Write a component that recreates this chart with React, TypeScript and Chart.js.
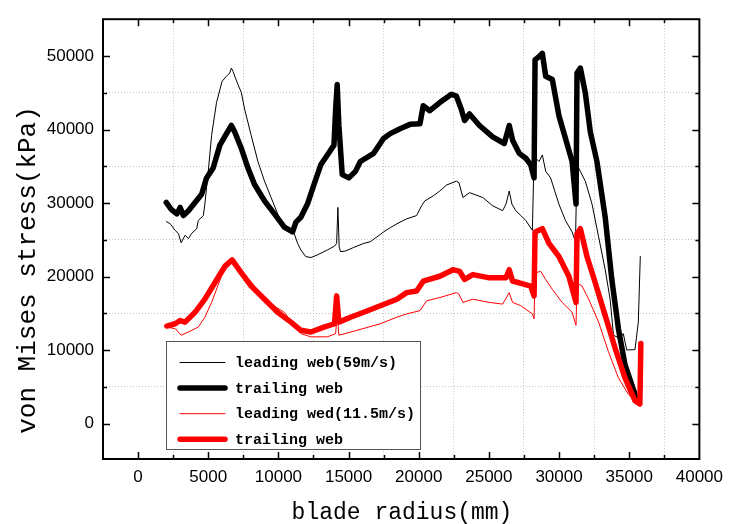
import React, { useEffect, useRef } from 'react';
import { Chart, registerables } from 'chart.js';

Chart.register(...registerables);

// ---------- data ----------
const lead59X = [2006, 2290, 2640, 2880, 3070, 3350, 3590, 3820, 4180, 4290, 4650, 4760, 5000, 5240, 5590, 5990, 6300, 6530, 6650, 6770, 6890, 7120, 7360, 7590, 8060, 8540, 9010, 9480, 9950, 10420, 11130, 11370, 11600, 11950, 12310, 12780, 13490, 14000, 14150, 14240, 14330, 14430, 14780, 15370, 16080, 16550, 17020, 17490, 17970, 18440, 19140, 19850, 20200, 20440, 21030, 21500, 21970, 22680, 22870, 23150, 23620, 24570, 25270, 25980, 26220, 26450, 26640, 26920, 27280, 27630, 28100, 28220, 28570, 28810, 29050, 29400, 29990, 30460, 30930, 31170, 31280, 31870, 32350, 32820, 33290, 33640, 33880, 34350, 34580, 34820, 35410, 35650, 35790];
const lead59Y = [27490, 27180, 26290, 25840, 24600, 25620, 25180, 25880, 26510, 27630, 28300, 29860, 34300, 39210, 43670, 46570, 47240, 47680, 48350, 47900, 47240, 46120, 45010, 42780, 39210, 35650, 32980, 30750, 28520, 26740, 25840, 24510, 23620, 22730, 22590, 22950, 23620, 24150, 24510, 29410, 24060, 23390, 23480, 23970, 24510, 24740, 25400, 26070, 26650, 27180, 27850, 28300, 29630, 30300, 30970, 31640, 32440, 32980, 32760, 30750, 31420, 30750, 29630, 28960, 29860, 31640, 29860, 28960, 28300, 27630, 26290, 36320, 35650, 36540, 34310, 33420, 29860, 27630, 26070, 24740, 35200, 32980, 29860, 25400, 20940, 16930, 12030, 11580, 12250, 10020, 10070, 13810, 22730];

const trail59X = [2006, 2340, 2760, 3000, 3230, 3590, 4060, 4530, 4880, 5350, 5830, 6300, 6650, 6890, 7360, 7830, 8300, 9010, 9720, 10420, 11010, 11250, 11600, 12070, 12540, 13020, 13490, 13960, 14080, 14190, 14310, 14550, 15020, 15490, 15840, 16790, 17490, 17970, 18670, 19380, 20090, 20320, 20790, 21500, 22330, 22680, 23030, 23270, 23620, 24330, 25270, 26100, 26450, 26690, 27160, 27630, 27980, 28220, 28290, 28570, 28810, 29050, 29520, 29990, 30460, 30930, 31210, 31280, 31520, 31870, 32230, 32700, 33290, 33760, 34230, 34700, 35410, 35650];
const trail59Y = [30080, 29190, 28520, 29410, 28300, 28960, 30080, 31190, 33420, 34760, 37880, 39440, 40550, 39660, 37430, 34760, 32530, 30300, 28520, 26740, 26070, 27410, 28070, 29860, 32530, 35200, 36540, 37880, 42780, 46120, 40550, 33870, 33420, 34310, 35650, 36760, 38770, 39440, 40110, 40700, 40770, 43230, 42560, 43670, 44790, 44560, 42780, 41220, 42110, 40550, 38990, 38100, 40550, 38550, 36760, 36100, 35200, 33420, 49470, 49910, 50360, 47240, 46790, 41890, 38770, 35650, 29860, 47680, 48350, 45010, 39660, 35650, 28070, 19610, 12920, 8020, 4010, 3120];

const lead115X = [2050, 2640, 3070, 3590, 4290, 4760, 5240, 5940, 6530, 6770, 7360, 8300, 9480, 10420, 11130, 11600, 12310, 13490, 14080, 14190, 14310, 15610, 17260, 18440, 19140, 20090, 20560, 21500, 22680, 22870, 23150, 23860, 25040, 25980, 26450, 26690, 27280, 28100, 28220, 28290, 28690, 29050, 29520, 30220, 30930, 31210, 31280, 31640, 32110, 32820, 33520, 34230, 34940, 35650];
const lead115Y = [13140, 12920, 12030, 12470, 13140, 14480, 16490, 20050, 21830, 22060, 20940, 18710, 16260, 15150, 13370, 12250, 11810, 11810, 12250, 15150, 12030, 12700, 13590, 14480, 14930, 15370, 16710, 17150, 17820, 17600, 16490, 16930, 16490, 16260, 17820, 16490, 16040, 14930, 14260, 20500, 20720, 19610, 18270, 16490, 15150, 13370, 19160, 18710, 16930, 13810, 9800, 6240, 4010, 2670];

const trail115X = [2050, 2640, 3000, 3350, 4060, 4760, 5470, 6180, 6700, 7360, 8060, 9010, 9950, 10890, 11600, 12310, 13250, 14000, 14150, 14310, 15140, 16080, 17260, 18440, 19140, 19850, 20320, 21500, 22440, 22920, 23270, 23860, 25040, 26220, 26450, 26690, 27160, 27980, 28220, 28290, 28810, 29280, 29990, 30700, 31210, 31280, 31520, 31990, 32580, 33290, 34000, 34700, 35410, 35760, 35830];
const trail115Y = [13280, 13590, 14030, 13810, 15150, 16930, 19160, 21390, 22280, 20500, 18710, 16930, 15150, 13810, 12700, 12470, 13140, 13590, 17380, 13810, 14480, 15150, 16040, 16930, 17820, 18040, 19380, 20050, 20940, 20720, 19610, 20270, 19830, 19830, 20940, 19380, 19160, 18710, 17380, 26070, 26510, 24510, 22730, 20050, 16490, 25840, 26510, 22730, 19160, 14700, 10250, 6240, 3120, 2670, 10910];

const seriesLabels = ['leading web(59m/s)', 'trailing web', 'leading wed(11.5m/s)', 'trailing web'];
const xLabelValues = [0, 5000, 10000, 15000, 20000, 25000, 30000, 35000, 40000];
const xMinorValues = [-2500, 2500, 7500, 12500, 17500, 22500, 27500, 32500, 37500];
const yLabelValues = [0, 10000, 20000, 30000, 40000, 50000];
const yMinorValues = [5000, 15000, 25000, 35000, 45000];
const xTitle = 'blade radius(mm)';
const yTitle = 'von Mises stress(kPa)';

const toPts = (xs: number[], ys: number[]) => xs.map((x, i) => ({ x, y: ys[i] }));

const framePlugin = {
  id: 'originFrame',
  afterDraw(chart: any) {
    const { ctx, chartArea: a, scales } = chart;
    const xs = scales.x;
    const ys = scales.y;
    ctx.save();
    ctx.strokeStyle = '#000';
    ctx.lineWidth = 1.5;
    ctx.lineCap = 'butt';
    const seg = (x1: number, y1: number, x2: number, y2: number) => {
      ctx.beginPath();
      ctx.moveTo(x1, y1);
      ctx.lineTo(x2, y2);
      ctx.stroke();
    };
    const xt = (v: number, len: number) => {
      const p = Math.round(xs.getPixelForValue(v)) + 0.5;
      seg(p, a.bottom, p, a.bottom - len);
      seg(p, a.top, p, a.top + len);
    };
    const yt = (v: number, len: number) => {
      const p = Math.round(ys.getPixelForValue(v)) + 0.5;
      seg(a.left, p, a.left + len, p);
      seg(a.right, p, a.right - len, p);
    };
    xLabelValues.forEach((v) => { if (v < xs.max) xt(v, 7); });
    xMinorValues.forEach((v) => { if (v > xs.min) xt(v, 4); });
    yLabelValues.forEach((v) => yt(v, 7));
    yMinorValues.forEach((v) => yt(v, 4));
    ctx.lineWidth = 2;
    ctx.strokeRect(a.left, a.top, a.right - a.left, a.bottom - a.top);

    // legend box
    const L = 166.5, T = 341.5, R = 420.5, B = 449.5;
    ctx.fillStyle = '#fff';
    ctx.fillRect(L, T, R - L, B - T);
    ctx.strokeStyle = '#555';
    ctx.lineWidth = 1;
    ctx.strokeRect(L, T, R - L, B - T);
    ctx.font = 'bold 15px "Liberation Mono"';
    ctx.textBaseline = 'middle';
    ctx.textAlign = 'left';
    chart.data.datasets.forEach((ds: any, i: number) => {
      const yc = 362.5 + i * 25.6;
      ctx.strokeStyle = ds.borderColor;
      ctx.lineWidth = ds.borderWidth;
      ctx.lineCap = 'round';
      seg(180, yc, 225, yc);
      ctx.fillStyle = '#000';
      ctx.fillText(ds.label, 235, yc + 1);
    });

    // axis titles
    ctx.fillStyle = '#000';
    ctx.textBaseline = 'alphabetic';
    ctx.textAlign = 'center';
    ctx.font = '23px "Liberation Mono"';
    ctx.fillText(xTitle, 402, 519);
    ctx.translate(35, 270);
    ctx.rotate(-Math.PI / 2);
    ctx.font = '26px "Liberation Mono"';
    ctx.fillText(yTitle, 0, 0);
    ctx.restore();
  },
};

export default function App() {
  const ref = useRef<HTMLCanvasElement | null>(null);
  useEffect(() => {
    if (!ref.current) return;
    const xTicks = [...xMinorValues, ...xLabelValues].sort((p, q) => p - q);
    const yTicks = [...yMinorValues, ...yLabelValues].sort((p, q) => p - q);
    const gridColor = (minors: number[]) => (c: any) =>
      c.tick && minors.includes(c.tick.value) ? '#c4c4c4' : 'rgba(0,0,0,0)';
    const chart = new Chart(ref.current, {
      type: 'line',
      data: {
        datasets: [
          { label: seriesLabels[0], data: toPts(lead59X, lead59Y), borderColor: '#000', borderWidth: 1, order: 3 },
          { label: seriesLabels[1], data: toPts(trail59X, trail59Y), borderColor: '#000', borderWidth: 5.5, order: 2 },
          { label: seriesLabels[2], data: toPts(lead115X, lead115Y), borderColor: '#ff0000', borderWidth: 1, order: 1 },
          { label: seriesLabels[3], data: toPts(trail115X, trail115Y), borderColor: '#ff0000', borderWidth: 5.5, order: 0 },
        ].map((d) => ({ ...d, pointRadius: 0, tension: 0, fill: false, borderJoinStyle: 'round', borderCapStyle: 'round' })) as any,
      },
      options: {
        animation: false,
        responsive: false,
        layout: { padding: { top: 12, right: 26, left: 0, bottom: 0 } },
        plugins: { legend: { display: false }, tooltip: { enabled: false }, title: { display: false } },
        scales: {
          x: {
            type: 'linear',
            min: -2500,
            max: 40000,
            afterFit: (s: any) => { s.height = 65; },
            afterBuildTicks: (s: any) => { s.ticks = xTicks.map((v) => ({ value: v })); },
            ticks: {
              autoSkip: false,
              maxRotation: 0,
              padding: 8,
              color: '#000',
              font: { family: 'Liberation Sans', size: 17 },
              callback: (v: any) => (xLabelValues.includes(Number(v)) ? String(v) : ''),
            },
            grid: { color: gridColor(xMinorValues), lineWidth: 1, drawTicks: false },
            border: { display: false, dash: [1, 2] },
          },
          y: {
            type: 'linear',
            min: -4800,
            max: 55000,
            afterFit: (s: any) => { s.width = 103; },
            afterBuildTicks: (s: any) => { s.ticks = yTicks.map((v) => ({ value: v })); },
            ticks: {
              autoSkip: false,
              padding: 9,
              color: '#000',
              font: { family: 'Liberation Sans', size: 17 },
              callback: (v: any) => (yLabelValues.includes(Number(v)) ? String(v) : ''),
            },
            grid: { color: gridColor(yMinorValues), lineWidth: 1, drawTicks: false },
            border: { display: false, dash: [1, 2] },
          },
        },
      },
      plugins: [framePlugin],
    } as any);
    return () => chart.destroy();
  }, []);
  return (
    <div style={{ position: 'absolute', left: 0, top: 0, width: 731, height: 524, background: '#fff' }}>
      <canvas ref={ref} width={731} height={524} style={{ width: 731, height: 524 }} />
    </div>
  );
}
